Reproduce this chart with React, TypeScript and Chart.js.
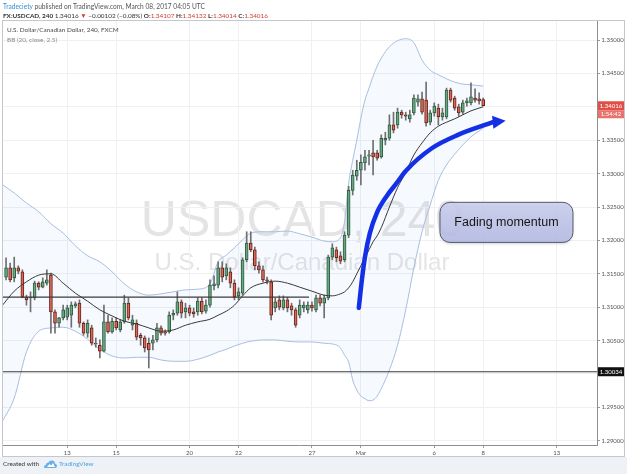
import React, { useEffect, useRef } from 'react';
import { Chart, registerables } from 'chart.js';

Chart.register(...registerables);

// ---------- data (4H candles, USD/CAD) ----------
const opens = [
  1.3145, 1.3159, 1.3144, 1.3159, 1.3153, 1.3115, 1.3114, 1.3114, 1.3136, 1.3130,
  1.3136, 1.3148, 1.3093, 1.3076, 1.3084, 1.3085, 1.3088, 1.3102, 1.3106, 1.3076,
  1.3061, 1.3069, 1.3046, 1.3043, 1.3034, 1.3078, 1.3063, 1.3079, 1.3066, 1.3078,
  1.3106, 1.3073, 1.3076, 1.3058, 1.3054, 1.3046, 1.3046, 1.3051, 1.3069, 1.3063,
  1.3063, 1.3088, 1.3091, 1.3108, 1.3093, 1.3099, 1.3093, 1.3093, 1.3109, 1.3094,
  1.3103, 1.3132, 1.3133, 1.3159, 1.3147, 1.3153, 1.3136, 1.3117, 1.3121, 1.3171,
  1.3196, 1.3186, 1.3162, 1.3156, 1.3141, 1.3138, 1.3099, 1.3111, 1.3099, 1.3111,
  1.3102, 1.3096, 1.3088, 1.3099, 1.3096, 1.3103, 1.3096, 1.3114, 1.3106, 1.3114,
  1.3175, 1.3186, 1.3177, 1.3171, 1.3208, 1.3275, 1.3296, 1.3305, 1.3316, 1.3326,
  1.3331, 1.3331, 1.3325, 1.3350, 1.3353, 1.3373, 1.3373, 1.3392, 1.3388, 1.3382,
  1.3391, 1.3407, 1.3412, 1.3410, 1.3377, 1.3391, 1.3398, 1.3385, 1.3385, 1.3425,
  1.3413, 1.3400, 1.3392, 1.3406, 1.3406, 1.3413, 1.3412, 1.34107,
];
const highs = [
  1.3174, 1.3166, 1.3175, 1.3162, 1.3156, 1.3118, 1.3123, 1.3139, 1.3138, 1.3144,
  1.3156, 1.3151, 1.3096, 1.3085, 1.3103, 1.3103, 1.3108, 1.3108, 1.3111, 1.3078,
  1.3081, 1.3073, 1.3054, 1.3051, 1.3103, 1.3088, 1.3084, 1.3084, 1.3081, 1.3118,
  1.3114, 1.3088, 1.3081, 1.3061, 1.3057, 1.3054, 1.3058, 1.3076, 1.3072, 1.3066,
  1.3093, 1.3096, 1.3123, 1.3111, 1.3106, 1.3103, 1.3099, 1.3114, 1.3114, 1.3111,
  1.3141, 1.3147, 1.3168, 1.3168, 1.3165, 1.3159, 1.3141, 1.3129, 1.3174, 1.3213,
  1.3213, 1.3190, 1.3168, 1.3162, 1.3145, 1.3141, 1.3114, 1.3117, 1.3117, 1.3115,
  1.3106, 1.3099, 1.3111, 1.3108, 1.3108, 1.3108, 1.3118, 1.3118, 1.3118, 1.3178,
  1.3195, 1.3190, 1.3183, 1.3213, 1.3281, 1.3305, 1.3320, 1.3328, 1.3335, 1.3335,
  1.3350, 1.3335, 1.3358, 1.3362, 1.3388, 1.3392, 1.3398, 1.3395, 1.3392, 1.3395,
  1.3418, 1.3418, 1.3422, 1.3437, 1.3395, 1.3406, 1.3404, 1.3398, 1.3428, 1.3428,
  1.3416, 1.3404, 1.3410, 1.3413, 1.3436, 1.3427, 1.3421, 1.34132,
];
const lows = [
  1.3141, 1.3138, 1.3138, 1.3150, 1.3114, 1.3103, 1.3093, 1.3111, 1.3126, 1.3129,
  1.3133, 1.3061, 1.3061, 1.3070, 1.3081, 1.3081, 1.3070, 1.3099, 1.3070, 1.3058,
  1.3055, 1.3043, 1.3040, 1.3024, 1.3033, 1.3061, 1.3061, 1.3066, 1.3063, 1.3076,
  1.3081, 1.3066, 1.3051, 1.3043, 1.3033, 1.3009, 1.3036, 1.3048, 1.3058, 1.3058,
  1.3061, 1.3081, 1.3088, 1.3084, 1.3084, 1.3087, 1.3085, 1.3088, 1.3090, 1.3091,
  1.3100, 1.3126, 1.3129, 1.3138, 1.3141, 1.3129, 1.3111, 1.3111, 1.3118, 1.3168,
  1.3183, 1.3156, 1.3151, 1.3138, 1.3135, 1.3081, 1.3093, 1.3096, 1.3096, 1.3093,
  1.3088, 1.3070, 1.3084, 1.3093, 1.3091, 1.3094, 1.3093, 1.3102, 1.3084, 1.3111,
  1.3171, 1.3168, 1.3165, 1.3168, 1.3204, 1.3268, 1.3290, 1.3283, 1.3305, 1.3313,
  1.3298, 1.3320, 1.3323, 1.3343, 1.3350, 1.3361, 1.3368, 1.3383, 1.3380, 1.3377,
  1.3388, 1.3401, 1.3389, 1.3371, 1.3373, 1.3386, 1.3373, 1.3380, 1.3382, 1.3407,
  1.3395, 1.3386, 1.3389, 1.3401, 1.3403, 1.3407, 1.3404, 1.34014,
];
const closes = [
  1.3159, 1.3141, 1.3159, 1.3154, 1.3115, 1.3111, 1.3115, 1.3136, 1.3130, 1.3138,
  1.3141, 1.3093, 1.3076, 1.3084, 1.3096, 1.3099, 1.3103, 1.3105, 1.3076, 1.3061,
  1.3076, 1.3046, 1.3045, 1.3034, 1.3078, 1.3063, 1.3079, 1.3069, 1.3078, 1.3106,
  1.3084, 1.3081, 1.3055, 1.3054, 1.3039, 1.3036, 1.3051, 1.3069, 1.3061, 1.3061,
  1.3088, 1.3091, 1.3108, 1.3091, 1.3099, 1.3091, 1.3090, 1.3109, 1.3093, 1.3103,
  1.3133, 1.3135, 1.3159, 1.3145, 1.3159, 1.3136, 1.3115, 1.3123, 1.3171, 1.3196,
  1.3186, 1.3162, 1.3156, 1.3141, 1.3139, 1.3088, 1.3108, 1.3100, 1.3111, 1.3099,
  1.3096, 1.3073, 1.3103, 1.3103, 1.3103, 1.3099, 1.3114, 1.3106, 1.3114, 1.3175,
  1.3189, 1.3174, 1.3169, 1.3208, 1.3275, 1.3298, 1.3305, 1.3317, 1.3325, 1.3328,
  1.3325, 1.3323, 1.3353, 1.3353, 1.3373, 1.3365, 1.3392, 1.3388, 1.3386, 1.3388,
  1.3413, 1.3412, 1.3392, 1.3376, 1.3391, 1.3401, 1.3385, 1.3391, 1.3425, 1.3410,
  1.3398, 1.3391, 1.3406, 1.3409, 1.3415, 1.3410, 1.3409, 1.34016,
];

// Bollinger Bands (20, close, 2.5) at these candle indices
const bbIdx = [
  -1, 2, 5, 8, 11, 14, 17, 20, 23, 26, 29, 32, 35, 38, 41, 44, 47, 50, 52, 54,
  56, 58, 60, 63, 66, 69, 72, 75, 78, 80, 82, 83, 84, 85, 86, 87, 88, 89, 90, 91,
  92, 94, 96, 98, 100, 102, 104, 106, 108, 110, 112, 114, 117,
];
const bbUpper = [
  1.3284, 1.3271, 1.3256, 1.3243, 1.3225, 1.3211, 1.3192, 1.3177, 1.3168, 1.3153,
  1.3135, 1.3123, 1.3118, 1.3120, 1.3123, 1.3126, 1.3127, 1.3135, 1.3168, 1.3178,
  1.3189, 1.3201, 1.3211, 1.3213, 1.3213, 1.3214, 1.3210, 1.3205, 1.3199, 1.3198,
  1.3204, 1.3228, 1.3286, 1.3320, 1.3350, 1.3383, 1.3410, 1.3428, 1.3446, 1.3461,
  1.3473, 1.3490, 1.3499, 1.3502, 1.3496, 1.3470, 1.3455, 1.3448, 1.3442, 1.3437,
  1.3434, 1.3433, 1.3431,
];
const bbMiddle = [
  1.3102, 1.3124, 1.3138, 1.3148, 1.3150, 1.3136, 1.3121, 1.3109, 1.3096, 1.3087,
  1.3079, 1.3075, 1.3069, 1.3064, 1.3066, 1.3073, 1.3078, 1.3082, 1.3088, 1.3094,
  1.3103, 1.3117, 1.3129, 1.3136, 1.3139, 1.3136, 1.3130, 1.3124, 1.3118, 1.3117,
  1.3120, 1.3123, 1.3129, 1.3138, 1.3150, 1.3162, 1.3174, 1.3186, 1.3198, 1.3207,
  1.3219, 1.3250, 1.3279, 1.3302, 1.3328, 1.3346, 1.3361, 1.3371, 1.3377, 1.3382,
  1.3388, 1.3394, 1.3400,
];
const bbLower = [
  1.2928, 1.2964, 1.3033, 1.3064, 1.3069, 1.3070, 1.3064, 1.3052, 1.3037, 1.3027,
  1.3024, 1.3025, 1.3025, 1.3021, 1.3019, 1.3019, 1.3022, 1.3028, 1.3033, 1.3037,
  1.3042, 1.3046, 1.3049, 1.3051, 1.3051, 1.3049, 1.3048, 1.3048, 1.3046, 1.3045,
  1.3039, 1.3028, 1.3018, 1.2991, 1.2976, 1.2967, 1.2963, 1.2960, 1.2961, 1.2967,
  1.2978, 1.3006, 1.3043, 1.3096, 1.3159, 1.3213, 1.3253, 1.3290, 1.3313, 1.3329,
  1.3343, 1.3355, 1.3368,
];

// axes
const xTickIdx = [15, 27, 45, 57, 75, 87, 105, 117, 135];
const xTickLabels = ['13', '15', '20', '22', '27', 'Mar', '6', '8', '13'];
const yTicks = [1.29, 1.295, 1.3, 1.305, 1.31, 1.315, 1.32, 1.325, 1.33, 1.335, 1.34, 1.345, 1.35];
const xRange = [-0.75, 144.9];
const yRange = [1.28937, 1.35285];

// drawings
const supportLevel = 1.3115;
const supportSpan = [-2, 74.3];
const levelPrice = 1.30034;
const levelSpan = [-2, 150];
const arrowX = [86.5, 87.25, 88.0, 89.2, 90.9, 93.4, 95.8, 98.0, 104.4, 110.8, 119.4];
const arrowY = [1.3099, 1.3141, 1.3175, 1.3211, 1.3241, 1.3267, 1.3286, 1.3304, 1.3338, 1.3358, 1.3377];
const arrowTip = { x: 122.5, y: 1.3379 };
const boxX = [106.4, 139.0];
const boxY = [1.3197, 1.3257];
const boxText = 'Fading momentum';
const lastPrice = 1.34016;
const countdown = '1:54:42';
const watermark1 = 'USDCAD, 240';
const watermark2 = 'U.S. Dollar/Canadian Dollar';

const UP_FILL = '#6ba583';
const UP_LINE = '#2b5e3f';
const DOWN_FILL = '#d36a5c';
const DOWN_LINE = '#6b2016';
const WICK = '#6f6f72';
const BAND = '#a9bfe2';
const ARROW = '#1430e6';
const UI_FONT = 'Lato, "Noto Sans", sans-serif';

export default function App() {
  const ref = useRef<HTMLCanvasElement | null>(null);

  useEffect(() => {
    document.body.style.margin = '0';
    const canvas = ref.current;
    if (!canvas) return;
    const idx = opens.map((_, i) => i);
    const up = (i: number) => closes[i] >= opens[i];

    const decor = {
      id: 'decor',
      beforeDraw(chart: any) {
        const { ctx, chartArea: a } = chart;
        ctx.save();
        ctx.fillStyle = '#ffffff';
        ctx.fillRect(0, 0, chart.width, chart.height);
        ctx.fillStyle = '#eef1f6';
        ctx.fillRect(0, a.bottom + 12, chart.width, chart.height - a.bottom - 12);
        ctx.strokeStyle = '#c4c7cc';
        ctx.lineWidth = 1;
        ctx.strokeRect(2.5, a.top - 0.5, chart.width - 5, a.bottom - a.top + 12);
        // watermark
        const cx = (a.left + a.right) / 2;
        const cy = (a.top + a.bottom) / 2;
        ctx.fillStyle = 'rgba(120,120,120,0.2)';
        ctx.textAlign = 'center';
        ctx.textBaseline = 'alphabetic';
        ctx.font = '50px "Liberation Sans", Arial, sans-serif';
        ctx.fillText(watermark1, cx + 2, cy + 3);
        ctx.font = '24px "Liberation Sans", Arial, sans-serif';
        ctx.fillText(watermark2, cx + 2, cy + 37);
        ctx.restore();
      },
      afterDatasetsDraw(chart: any) {
        const { ctx, scales } = chart;
        const sx = scales.x;
        const sy = scales.y;
        ctx.save();
        // arrow head
        const meta = chart.getDatasetMeta(7);
        const last = meta.data[meta.data.length - 1];
        const tx = sx.getPixelForValue(arrowTip.x);
        const ty = sy.getPixelForValue(arrowTip.y);
        let dx = tx - last.x;
        let dy = ty - last.y;
        const len = Math.hypot(dx, dy) || 1;
        dx /= len;
        dy /= len;
        const L = 13;
        const W = 6.5;
        const bx = tx - dx * L;
        const by = ty - dy * L;
        ctx.fillStyle = ARROW;
        ctx.beginPath();
        ctx.moveTo(tx, ty);
        ctx.lineTo(bx - dy * W, by + dx * W);
        ctx.lineTo(bx + dy * W, by - dx * W);
        ctx.closePath();
        ctx.fill();
        // callout box (semi-transparent: the watermark shows through)
        const x1 = sx.getPixelForValue(boxX[0]);
        const x2 = sx.getPixelForValue(boxX[1]);
        const y1 = sy.getPixelForValue(boxY[1]);
        const y2 = sy.getPixelForValue(boxY[0]);
        const g = ctx.createLinearGradient(0, y1, 0, y2);
        g.addColorStop(0, 'rgba(204,209,242,0.86)');
        g.addColorStop(1, 'rgba(182,189,232,0.86)');
        ctx.shadowColor = 'rgba(0,0,0,0.25)';
        ctx.shadowBlur = 3;
        ctx.shadowOffsetY = 1;
        ctx.beginPath();
        ctx.roundRect(x1, y1, x2 - x1, y2 - y1, 10);
        ctx.fillStyle = g;
        ctx.fill();
        ctx.shadowColor = 'transparent';
        ctx.strokeStyle = '#555a6e';
        ctx.lineWidth = 1;
        ctx.stroke();
        ctx.fillStyle = '#151515';
        ctx.font = '12.5px "Liberation Sans", Arial, sans-serif';
        ctx.textAlign = 'center';
        ctx.textBaseline = 'middle';
        ctx.fillText(boxText, (x1 + x2) / 2, (y1 + y2) / 2 + 0.5);
        ctx.restore();
      },
      afterDraw(chart: any) {
        const { ctx, scales } = chart;
        const sy = scales.y;
        const lx = sy.left + 1;
        const w = chart.width - 3 - lx;
        ctx.save();
        ctx.font = '6px ' + UI_FONT;
        ctx.textAlign = 'center';
        ctx.textBaseline = 'middle';
        const yp = sy.getPixelForValue(lastPrice);
        ctx.fillStyle = '#df4f48';
        ctx.fillRect(lx, yp - 4.5, w, 9);
        ctx.fillStyle = '#e8736d';
        ctx.fillRect(lx, yp + 4.5, w, 8);
        ctx.fillStyle = '#ffffff';
        ctx.fillText(lastPrice.toFixed(5), lx + w / 2, yp + 0.5);
        ctx.fillText(countdown, lx + w / 2, yp + 8.5);
        const yh = sy.getPixelForValue(levelPrice);
        ctx.fillStyle = '#111111';
        ctx.fillRect(lx, yh - 4.5, w, 9);
        ctx.fillStyle = '#ffffff';
        ctx.fillText(levelPrice.toFixed(5), lx + w / 2, yh + 0.5);
        ctx.restore();
      },
    };

    const chart = new Chart(canvas, {
      type: 'bar',
      data: {
        datasets: [
          {
            type: 'line',
            label: 'BB upper',
            data: bbIdx.map((x, k) => ({ x, y: bbUpper[k] })),
            borderColor: BAND,
            borderWidth: 1,
            pointRadius: 0,
            fill: '+1',
            backgroundColor: 'rgba(110,150,225,0.06)',
            cubicInterpolationMode: 'monotone',
            order: 10,
          },
          {
            type: 'line',
            label: 'BB lower',
            data: bbIdx.map((x, k) => ({ x, y: bbLower[k] })),
            borderColor: BAND,
            borderWidth: 1,
            pointRadius: 0,
            fill: false,
            cubicInterpolationMode: 'monotone',
            order: 10,
          },
          {
            type: 'bar',
            label: 'wicks',
            data: idx.map((i) => ({ x: i, y: [lows[i], highs[i]] })),
            backgroundColor: WICK,
            barThickness: 1,
            grouped: false,
            order: 6,
          },
          {
            type: 'bar',
            label: 'bodies',
            data: idx.map((i) => ({ x: i, y: [opens[i], closes[i]] })),
            backgroundColor: idx.map((i) => (up(i) ? UP_FILL : DOWN_FILL)),
            borderColor: idx.map((i) => (up(i) ? UP_LINE : DOWN_LINE)),
            borderWidth: 1,
            borderSkipped: false,
            barThickness: 3,
            grouped: false,
            order: 5,
          },
          {
            type: 'line',
            label: 'BB basis',
            data: bbIdx.map((x, k) => ({ x, y: bbMiddle[k] })),
            borderColor: '#3a3a3a',
            borderWidth: 1,
            pointRadius: 0,
            fill: false,
            cubicInterpolationMode: 'monotone',
            order: 4,
          },
          {
            type: 'line',
            label: 'support',
            data: supportSpan.map((x) => ({ x, y: supportLevel })),
            borderColor: '#3b3b3b',
            borderWidth: 1.2,
            pointRadius: 0,
            fill: false,
            order: 3,
          },
          {
            type: 'line',
            label: 'level',
            data: levelSpan.map((x) => ({ x, y: levelPrice })),
            borderColor: '#3b3b3b',
            borderWidth: 1.2,
            pointRadius: 0,
            fill: false,
            order: 3,
          },
          {
            type: 'line',
            label: 'arrow',
            data: arrowX.map((x, k) => ({ x, y: arrowY[k] })),
            borderColor: ARROW,
            borderWidth: 4.5,
            borderCapStyle: 'round',
            pointRadius: 0,
            fill: false,
            cubicInterpolationMode: 'monotone',
            order: 1,
          },
        ] as any,
      },
      options: {
        responsive: false,
        animation: false,
        events: [],
        layout: { padding: { left: 3, top: 21, right: 3, bottom: 18 } },
        plugins: {
          legend: { display: false },
          tooltip: { enabled: false },
          filler: { propagate: false, drawTime: 'beforeDatasetsDraw' },
        } as any,
        scales: {
          x: {
            type: 'linear',
            min: xRange[0],
            max: xRange[1],
            offset: false,
            grid: { color: '#eef0f3', offset: false, tickLength: 3, tickColor: '#9a9a9a' },
            border: { display: true, color: '#8e8e8e', width: 1 },
            afterBuildTicks: (s: any) => {
              s.ticks = xTickIdx.map((v) => ({ value: v }));
            },
            afterFit: (s: any) => {
              s.height = 11;
            },
            ticks: {
              autoSkip: false,
              maxRotation: 0,
              padding: 1,
              color: '#555',
              font: { size: 6, family: UI_FONT },
              callback: (v: any) => {
                const k = xTickIdx.indexOf(Number(v));
                return k >= 0 ? xTickLabels[k] : '';
              },
            },
          },
          y: {
            type: 'linear',
            position: 'right',
            min: yRange[0],
            max: yRange[1],
            grid: { color: '#eef0f3', tickLength: 3, tickColor: '#9a9a9a' },
            border: { display: true, color: '#8e8e8e', width: 1 },
            afterBuildTicks: (s: any) => {
              s.ticks = yTicks.map((v) => ({ value: v }));
            },
            afterFit: (s: any) => {
              s.width = 27;
            },
            ticks: {
              padding: 1.5,
              color: '#555',
              font: { size: 6, family: UI_FONT },
              callback: (v: any) => Number(v).toFixed(5),
            },
          },
        } as any,
      },
      plugins: [decor],
    } as any);

    return () => chart.destroy();
  }, []);

  const base: React.CSSProperties = {
    position: 'absolute',
    whiteSpace: 'nowrap',
    fontFamily: UI_FONT,
    fontSize: 6.4,
    lineHeight: '8px',
  };
  const red = { color: '#cf3d35' };

  return (
    <div style={{ position: 'relative', width: 627, height: 474, overflow: 'hidden', background: '#fff' }}>
      <canvas ref={ref} width={627} height={474} style={{ position: 'absolute', left: 0, top: 0 }} />
      <div style={{ ...base, left: 3, top: 2, color: '#555', fontSize: 6.6 }}>
        <span style={{ color: '#3a8fd8' }}>Tradeciety</span> published on TradingView.com, March 08, 2017 04:05 UTC
      </div>
      <div style={{ ...base, left: 3, top: 12, color: '#333' }}>
        <b>FX:USDCAD, 240</b> 1.34016 <span style={red}>▼</span> −0.00102 (−0.08%) <b>O:</b>
        <span style={red}>1.34107</span> <b>H:</b>
        <span style={red}>1.34132</span> <b>L:</b>
        <span style={red}>1.34014</span> <b>C:</b>
        <span style={red}>1.34016</span>
      </div>
      <div style={{ ...base, left: 7, top: 26, color: '#4a4a4a' }}>U.S. Dollar/Canadian Dollar, 240, FXCM</div>
      <div style={{ ...base, left: 7, top: 36, color: '#8a8a8a' }}>BB (20, close, 2.5)</div>
      <div style={{ ...base, left: 3, top: 460, color: '#333' }}>Created with</div>
      <svg style={{ position: 'absolute', left: 44, top: 460 }} width="13" height="8" viewBox="0 0 13 8">
        <path d="M1 8 Q0 8 0 6.5 Q0 5 2 5 Q2 2.5 4.5 2.5 Q5.5 0 8.5 0.5 Q11 1 11 3.5 Q13 4 13 6 Q13 8 11 8 Z" fill="#66b0e6" />
        <path d="M3 7 L5.5 4 L7 5.5 L9 3 L11 7 Z" fill="#ffffff" />
      </svg>
      <div style={{ ...base, left: 59, top: 460, color: '#4ea3e0' }}>TradingView</div>
    </div>
  );
}
